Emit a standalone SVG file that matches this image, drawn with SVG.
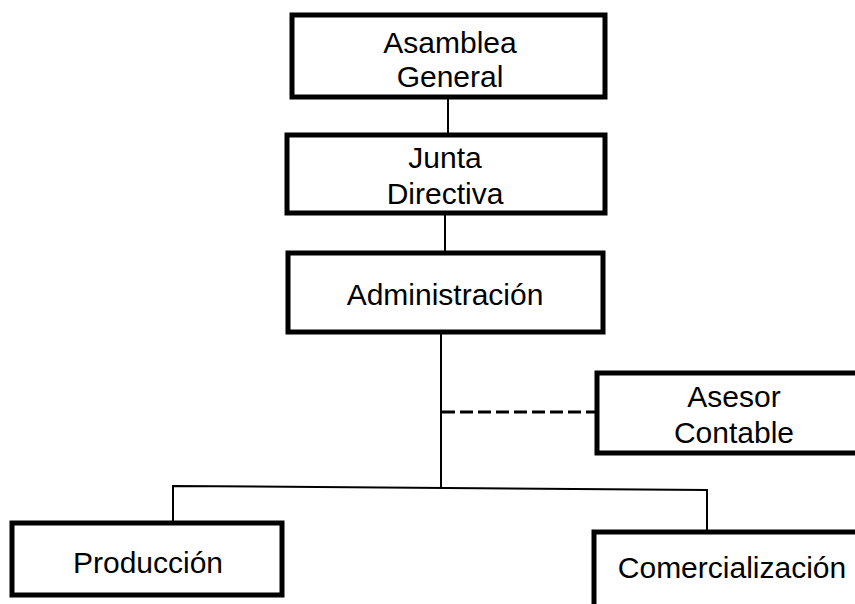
<svg xmlns="http://www.w3.org/2000/svg" width="855" height="604" viewBox="0 0 855 604">
<style>
.box{fill:#fff;stroke:#000;stroke-width:5}
.t{font-family:"Liberation Sans",Arial,sans-serif;font-size:30px;fill:#000;text-anchor:middle}
.ln{stroke:#000;stroke-width:2;fill:none}
.dash{stroke:#000;stroke-width:3;fill:none;stroke-dasharray:13 5}
</style>
<rect width="855" height="604" fill="#fff"/>
<g id="connectors">
<line class="ln" x1="448" y1="97" x2="448" y2="135"/>
<line class="ln" x1="445" y1="213" x2="445" y2="253"/>
<line class="ln" x1="441" y1="332" x2="441" y2="487"/>
<polyline class="ln" points="173,523 173,486 707,490 707,532"/>
<line class="dash" x1="442" y1="412" x2="597" y2="412"/>
</g>
<g id="asamblea">
<rect class="box" x="292" y="15" width="313" height="82"/>
<text class="t" x="450" y="53">Asamblea</text>
<text class="t" x="450" y="87">General</text>
</g>
<g id="junta">
<rect class="box" x="287" y="135" width="318" height="78"/>
<text class="t" x="445" y="168">Junta</text>
<text class="t" x="445" y="204">Directiva</text>
</g>
<g id="administracion">
<rect class="box" x="288" y="253" width="315" height="79"/>
<text class="t" x="445" y="305">Administración</text>
</g>
<g id="asesor">
<rect class="box" x="597" y="373" width="270" height="80"/>
<text class="t" x="734" y="407">Asesor</text>
<text class="t" x="734" y="443">Contable</text>
</g>
<g id="produccion">
<rect class="box" x="12" y="523" width="270" height="72"/>
<text class="t" x="148" y="573">Producción</text>
</g>
<g id="comercializacion">
<rect class="box" x="594" y="532" width="280" height="90"/>
<text class="t" x="732" y="578">Comercialización</text>
</g>
</svg>
